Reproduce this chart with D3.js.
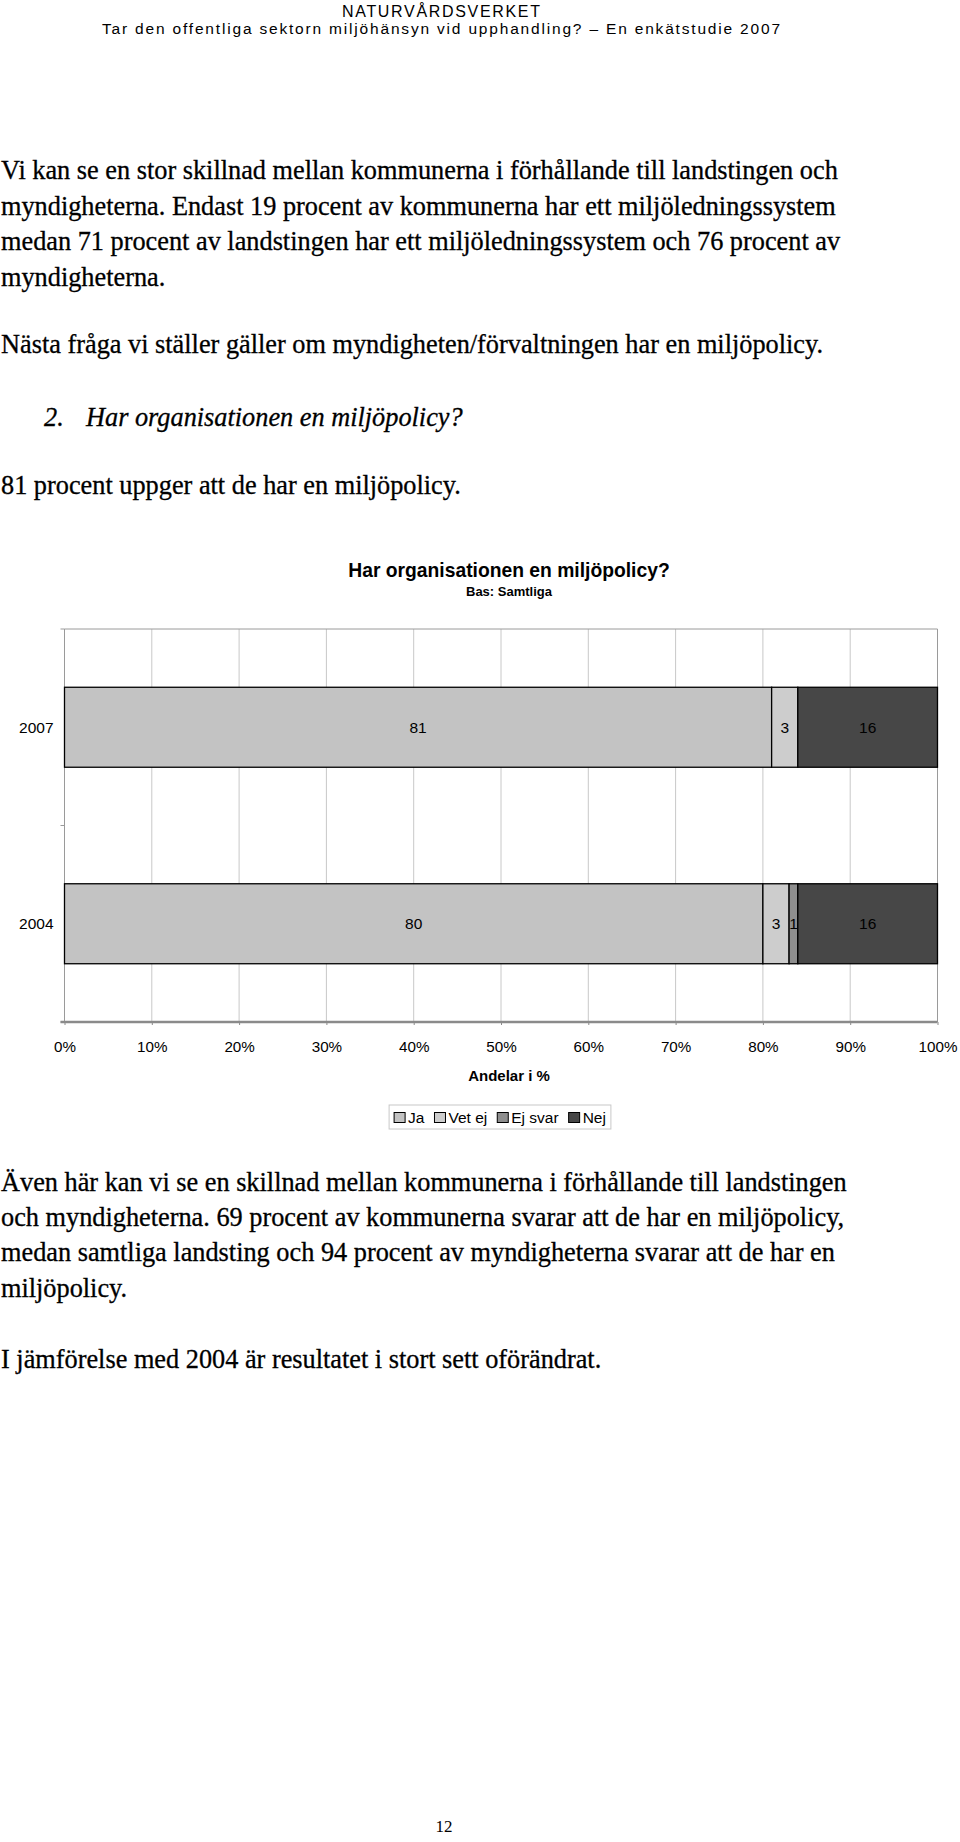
<!DOCTYPE html>
<html><head><meta charset="utf-8">
<script src="https://cdn.jsdelivr.net/npm/d3@7"></script>
<style>body{margin:0;background:#fff}</style>
</head><body><svg id="c" width="960" height="1842"></svg>
<script>
// ---- data ----
const categories = ["2007", "2004"];
const seriesNames = ["Ja", "Vet ej", "Ej svar", "Nej"];
const ja = [81, 80];
const vetEj = [3, 3];
const ejSvar = [0, 1];
const nej = [16, 16];
const xTicks = [0, 10, 20, 30, 40, 50, 60, 70, 80, 90, 100];
const chartTitle = "Har organisationen en miljöpolicy?";
const chartSubtitle = "Bas: Samtliga";
const xAxisTitle = "Andelar i %";

const headerLines = ["NATURVÅRDSVERKET", "Tar den offentliga sektorn miljöhänsyn vid upphandling? – En enkätstudie 2007"];
const para1 = [
  "Vi kan se en stor skillnad mellan kommunerna i förhållande till landstingen och",
  "myndigheterna. Endast 19 procent av kommunerna har ett miljöledningssystem",
  "medan 71 procent av landstingen har ett miljöledningssystem och 76 procent av",
  "myndigheterna."
];
const para2 = ["Nästa fråga vi ställer gäller om myndigheten/förvaltningen har en miljöpolicy."];
const questionNum = "2.";
const questionText = "Har organisationen en miljöpolicy?";
const para3 = ["81 procent uppger att de har en miljöpolicy."];
const para4 = [
  "Även här kan vi se en skillnad mellan kommunerna i förhållande till landstingen",
  "och myndigheterna. 69 procent av kommunerna svarar att de har en miljöpolicy,",
  "medan samtliga landsting och 94 procent av myndigheterna svarar att de har en",
  "miljöpolicy."
];
const para5 = ["I jämförelse med 2004 är resultatet i stort sett oförändrat."];
const pageNumber = "12";

// ---- styles ----
const colors = ["#c3c3c3", "#cdcdcd", "#8e8e8e", "#474747"];
const serif = "'Liberation Serif','Times New Roman',serif";
const sans = "'Liberation Sans',Arial,sans-serif";

const svg = d3.select("#c");

function line(txt, x, y, size, family, opts = {}) {
  const t = svg.append("text").attr("x", x).attr("y", y)
    .attr("font-family", family).attr("font-size", size)
    .attr("fill", opts.fill || "#000").text(txt);
  if (opts.italic) t.attr("font-style", "italic");
  if (opts.bold) t.attr("font-weight", "bold");
  if (opts.anchor) t.attr("text-anchor", opts.anchor);
  if (opts.stroke) t.attr("stroke", "#000").attr("stroke-width", opts.stroke);
  if (opts.width) t.attr("textLength", opts.width).attr("lengthAdjust", opts.adjust || "spacingAndGlyphs");
  return t;
}

// header (centred)
line(headerLines[0], 441, 16.5, 16, sans, {anchor: "middle", width: 198, adjust: "spacing"});
line(headerLines[1], 441, 34, 15.5, sans, {anchor: "middle", width: 678, adjust: "spacing"});

// body paragraphs (natural width)
const bodySize = 26.3;
const bs = 0.3;
para1.forEach((s, i) => line(s, 1, 179 + i * 35.6, bodySize, serif, {stroke: bs}));
line(para2[0], 1, 353, bodySize, serif, {stroke: bs});
line(questionNum, 44, 426, bodySize, serif, {italic: true, stroke: bs});
line(questionText, 86, 426, bodySize, serif, {italic: true, stroke: bs});
line(para3[0], 1, 494, bodySize, serif, {stroke: bs});
para4.forEach((s, i) => line(s, 1, 1191 + i * 35.2, bodySize, serif, {stroke: bs}));
line(para5[0], 1, 1368, bodySize, serif, {stroke: bs});
line(pageNumber, 444, 1832, 17, serif, {anchor: "middle"});

// ---- chart ----
const plot = {left: 64.5, right: 937.5, top: 629, bottom: 1022};
const x = d3.scaleLinear().domain([0, 100]).range([plot.left, plot.right]);
const y = d3.scaleBand().domain(categories).range([plot.top, plot.bottom])
  .paddingInner(0.593).paddingOuter(0.2965);
const midX = (plot.left + plot.right) / 2 + 8;

line(chartTitle, midX, 577, 19.3, sans, {bold: true, anchor: "middle"});
line(chartSubtitle, midX, 596, 13, sans, {bold: true, anchor: "middle"});

// gridlines & frame
const g = svg.append("g");
g.selectAll("line.grid").data(xTicks).join("line")
  .attr("x1", d => x(d)).attr("x2", d => x(d))
  .attr("y1", plot.top).attr("y2", plot.bottom)
  .attr("stroke", d => (d === 0 || d === 100) ? "#9a9a9a" : "#c8c8c8")
  .attr("stroke-width", 1);
g.append("line").attr("x1", plot.left).attr("x2", plot.right)
  .attr("y1", plot.top).attr("y2", plot.top).attr("stroke", "#9a9a9a");

// left axis ticks at band boundaries
const step = y.step();
const bounds = [plot.top, plot.top + step, plot.bottom];
g.selectAll("line.ltick").data(bounds).join("line")
  .attr("x1", plot.left - 4).attr("x2", plot.left)
  .attr("y1", d => d).attr("y2", d => d).attr("stroke", "#9a9a9a");

// x axis
const xAxis = d3.axisBottom(x).tickValues(xTicks).tickFormat(d => d + "%").tickSize(3).tickPadding(16);
const ax = svg.append("g").attr("transform", `translate(0,${plot.bottom})`).call(xAxis);
ax.select(".domain").attr("stroke", "#8a8a8a").attr("stroke-width", 2.5)
  .attr("d", `M${plot.left - 4},0H${plot.right}`);
ax.selectAll(".tick line").attr("stroke", "#8a8a8a");
ax.selectAll(".tick text").attr("font-family", sans).attr("font-size", 15.2).attr("fill", "#000");

line(xAxisTitle, midX, 1081, 15, sans, {bold: true, anchor: "middle"});

// category labels
categories.forEach(c => {
  line(c, plot.left - 11, y(c) + y.bandwidth() / 2 + 5.5, 15.5, sans, {anchor: "end"});
});

// stacked bars
const seriesVals = [ja, vetEj, ejSvar, nej];
const rows = categories.map((c, i) => {
  const r = {cat: c};
  seriesNames.forEach((s, j) => r[s] = seriesVals[j][i]);
  return r;
});
const stack = d3.stack().keys(seriesNames)(rows);
const bars = svg.append("g");
stack.forEach((layer, j) => {
  layer.forEach(d => {
    const v = d[1] - d[0];
    if (v <= 0) return;
    bars.append("rect")
      .attr("x", x(d[0])).attr("y", y(d.data.cat))
      .attr("width", x(d[1]) - x(d[0])).attr("height", y.bandwidth())
      .attr("fill", colors[j]).attr("stroke", "#000").attr("stroke-width", 1.3);
  });
});
stack.forEach((layer, j) => {
  layer.forEach(d => {
    const v = d[1] - d[0];
    if (v <= 0) return;
    line(String(v), x((d[0] + d[1]) / 2), y(d.data.cat) + y.bandwidth() / 2 + 5.5, 15.5, sans, {anchor: "middle"});
  });
});

// legend
const legY = 1105, legH = 24;
const legBox = svg.append("rect").attr("y", legY).attr("height", legH)
  .attr("fill", "#fff").attr("stroke", "#c8c8c8");
const leg = svg.append("g");
let cx = 0;
const gap = 10;
seriesNames.forEach((s, j) => {
  const gi = leg.append("g");
  gi.append("rect").attr("x", cx).attr("y", 0).attr("width", 11).attr("height", 10)
    .attr("fill", colors[j]).attr("stroke", "#000").attr("stroke-width", 1);
  const t = gi.append("text").attr("x", cx + 14).attr("y", 10.5)
    .attr("font-family", sans).attr("font-size", 15.5).text(s);
  const w = t.node().getComputedTextLength();
  cx += 14 + w + gap;
});
const totalW = cx - gap;
const legCx = 500;
const lx0 = legCx - totalW / 2;
leg.attr("transform", `translate(${lx0},${legY + 7.5})`);
legBox.attr("x", lx0 - 5).attr("width", totalW + 10);
</script>
</body></html>
